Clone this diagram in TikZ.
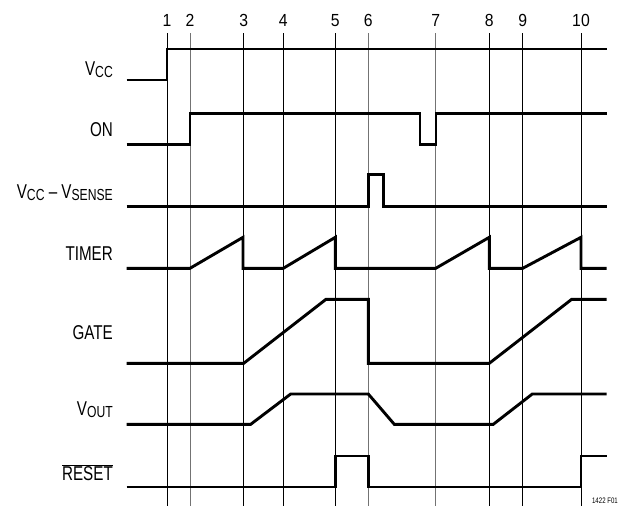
\documentclass[tikz,border=0pt]{standalone}
\usepackage{fontspec}
\setmainfont{Liberation Sans}[FakeStretch=0.76]
\newfontfamily\numfont{Liberation Sans}[FakeStretch=0.9]
\newcommand{\mysub}[1]{\raisebox{-2pt}{\fontsize{16}{17}\selectfont #1}}
\begin{document}
\begin{tikzpicture}[x=1pt,y=-1pt,
  sig/.style={line width=2.9pt, line join=miter},
  gridk/.style={line width=0.8pt, black},
  gridg/.style={line width=0.8pt, black!55},
  lab/.style={anchor=base east, inner sep=0pt, font=\fontsize{20}{21}\selectfont},
  num/.style={anchor=base, inner sep=0pt, font=\numfont\fontsize{17.5}{18}\selectfont}]
\path[use as bounding box] (0,0) rectangle (619,506);
% time markers
\foreach \x/\n/\s in {167/1/gridk,190/2/gridg,243.7/3/gridk,283.3/4/gridk,335.3/5/gridk,368.3/6/gridg,435.7/7/gridg,489.3/8/gridk,522.7/9/gridk,581/10/gridk}{
  \draw[\s] (\x,33.3) -- (\x,506);
  \node[num] (t\n) at (\x,26.7) {\n};
}
% labels
\node[lab] (lvcc) at (113,75) {V\mysub{CC}};
\node[lab] (lon) at (113,136) {ON};
\node[lab] (lsense) at (113,198.3) {V\mysub{CC} -- V\mysub{SENSE}};
\node[lab] (ltimer) at (113,260) {TIMER};
\node[lab] (lgate) at (113,339.3) {GATE};
\node[lab] (lvout) at (113,415) {V\mysub{OUT}};
\node[lab] (lreset) at (113,480.7) {$\overline{\mbox{RESET}}$};
% signals
\draw[sig] (126.7,80) -- (167,80) -- (167,49) -- (606.7,49);
\draw[sig] (126.7,144.3) -- (190,144.3) -- (190,113.7) -- (420,113.7) -- (420,144.3) -- (436,144.3) -- (436,113.7) -- (606.7,113.7);
\draw[sig] (126.7,206.7) -- (368.3,206.7) -- (368.3,174.3) -- (383.3,174.3) -- (383.3,206.7) -- (606.7,206.7);
\draw[sig] (126.7,268.3) -- (190,268.3) -- (243,237.3) -- (243,268.3) -- (283.3,268.3) -- (335.3,237.3) -- (335.3,268.3) -- (435.7,268.3) -- (489.3,237.3) -- (489.3,268.3) -- (522.7,268.3) -- (581,237.3) -- (581,268.3) -- (606.7,268.3);
\draw[sig] (126.7,363.3) -- (243.7,363.3) -- (326,299.3) -- (368.3,299.3) -- (368.3,363.3) -- (489.3,363.3) -- (571.7,299.3) -- (606.7,299.3);
\draw[sig] (126.7,424.3) -- (250.7,424.3) -- (290.7,394) -- (368.3,394) -- (394.3,424.3) -- (493.3,424.3) -- (532.3,394) -- (606.7,394);
\draw[sig] (126.7,487) -- (335.3,487) -- (335.3,456) -- (368.3,456) -- (368.3,487) -- (581,487) -- (581,456) -- (606.7,456);
% figure id
\node[anchor=base east, inner sep=0pt, font=\fontsize{8}{9}\selectfont] (fig) at (618,503.5) {1422 F01};
\end{tikzpicture}
\end{document}
